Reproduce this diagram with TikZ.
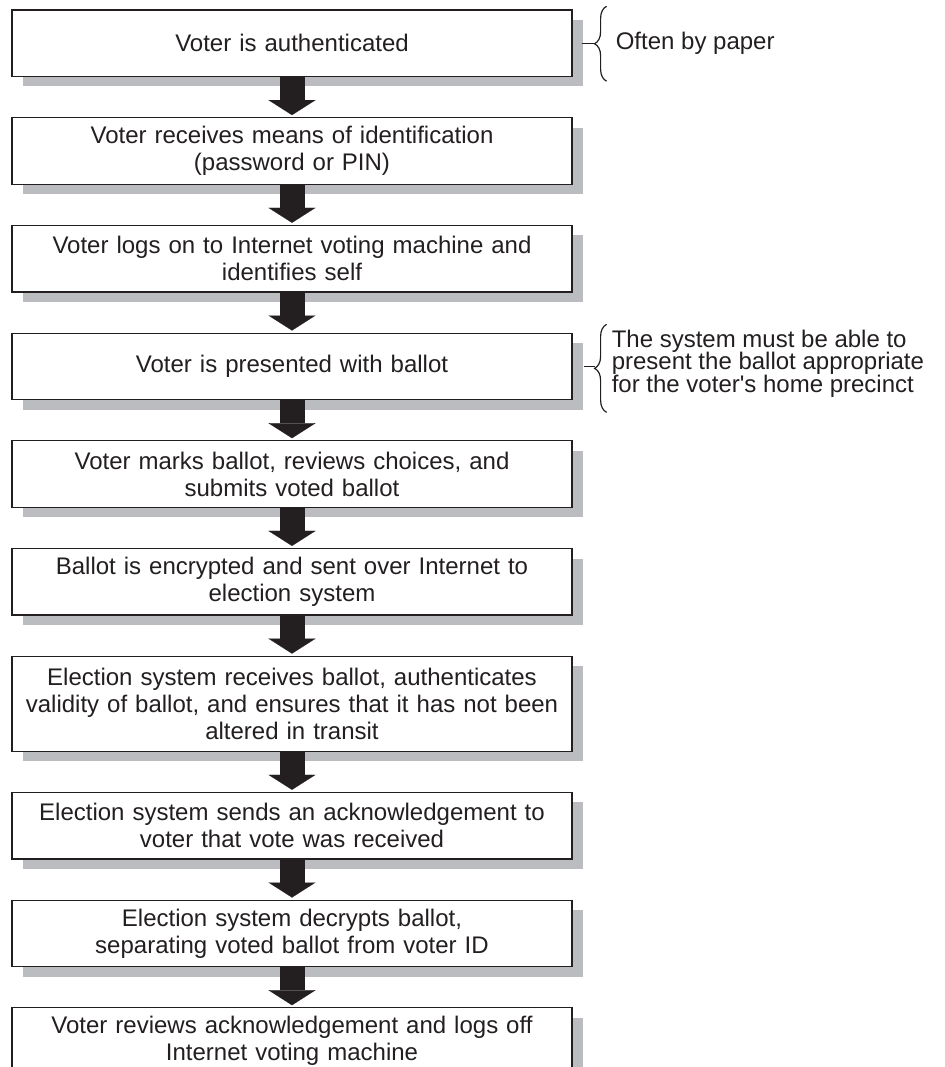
\documentclass[tikz,border=0pt]{standalone}
\usepackage{fontspec}
\setmainfont{Liberation Sans}
\usepackage{xcolor}
\usetikzlibrary{positioning,shadows,arrows.meta,decorations.pathreplacing}

\definecolor{inkdark}{HTML}{231F20}
\definecolor{shadowgray}{HTML}{BBBCBF}

\tikzset{
  stepbox/.style={rectangle, draw=inkdark, line width=1.2pt, fill=white, text=inkdark, text width=536pt, minimum height=66.5pt, inner xsep=12pt, inner ysep=6.5pt, align=center, font=\fontsize{24}{27}\selectfont, drop shadow={shadow xshift=11pt, shadow yshift=-10pt, fill=shadowgray, opacity=1}},
  bigarrow/.style={draw=inkdark, line width=25pt, -{Triangle[length=15pt 0 0, width=47pt 0 0, line width=0.1pt]}, shorten >=2pt},
  sidebrace/.style={draw=inkdark, line width=1.2pt, decorate, decoration={brace, amplitude=12pt}},
  sidetick/.style={draw=inkdark, line width=1.2pt},
  sidenote/.style={anchor=west, text=inkdark, align=left, inner sep=0pt, font=\fontsize{24}{22.5}\selectfont}
}

\begin{document}
\begin{tikzpicture}
\useasboundingbox (0pt,0pt) rectangle (944pt,-1067pt);

% steps
\node[stepbox] (b1) at (292pt,-43.25pt) {Voter is authenticated};
\node[stepbox, below=40pt of b1] (b2) {Voter receives means of identification\\(password or PIN)};
\node[stepbox, below=40pt of b2] (b3) {Voter logs on to Internet voting machine and\\identifies self};
\node[stepbox, below=40pt of b3] (b4) {Voter is presented with ballot};
\node[stepbox, below=40pt of b4] (b5) {Voter marks ballot, reviews choices, and\\submits voted ballot};
\node[stepbox, below=40pt of b5] (b6) {Ballot is encrypted and sent over Internet to\\election system};
\node[stepbox, below=40pt of b6, minimum height=95pt] (b7) {Election system receives ballot, authenticates\\validity of ballot, and ensures that it has not been\\altered in transit};
\node[stepbox, below=40pt of b7] (b8) {Election system sends an acknowledgement to\\voter that vote was received};
\node[stepbox, below=40pt of b8] (b9) {Election system decrypts ballot,\\separating voted ballot from voter ID};
\node[stepbox, below=40pt of b9] (b10) {Voter reviews acknowledgement and logs off\\Internet voting machine};

% arrows
\draw[bigarrow] (b1) -- (b2);
\draw[bigarrow] (b2) -- (b3);
\draw[bigarrow] (b3) -- (b4);
\draw[bigarrow] (b4) -- (b5);
\draw[bigarrow] (b5) -- (b6);
\draw[bigarrow] (b6) -- (b7);
\draw[bigarrow] (b7) -- (b8);
\draw[bigarrow] (b8) -- (b9);
\draw[bigarrow] (b9) -- (b10);

% side notes
\coordinate (t1) at ([xshift=22pt]b1.east);
\draw[sidebrace] ([xshift=34pt,yshift=-38pt]b1.east) -- ([xshift=34pt,yshift=37pt]b1.east);
\draw[sidetick] ([xshift=9pt]b1.east) -- (t1);
\node[sidenote] (n1) at ([xshift=43pt]b1.east) {Often by paper};

\coordinate (t4) at ([xshift=22pt]b4.east);
\draw[sidebrace] ([xshift=34pt,yshift=-46pt]b4.east) -- ([xshift=34pt,yshift=42pt]b4.east);
\draw[sidetick] ([xshift=11pt]b4.east) -- (t4);
\node[sidenote] (n4) at ([xshift=39pt,yshift=3pt]b4.east) {The system must be able to\\present the ballot appropriate\\for the voter\textquotesingle s home precinct};
\end{tikzpicture}
\end{document}
